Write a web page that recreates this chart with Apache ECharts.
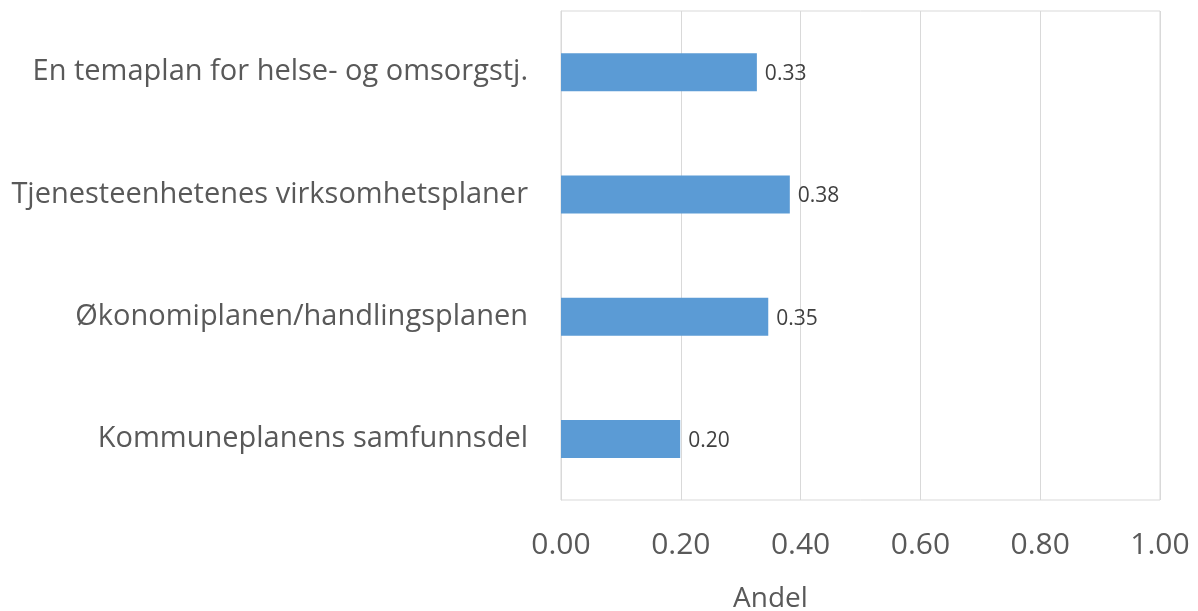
<!DOCTYPE html>
<html><head><meta charset="utf-8">
<script src="https://cdn.jsdelivr.net/npm/echarts@6/dist/echarts.min.js"></script>
<style>html,body{margin:0;padding:0;background:#fff}#c{width:1198px;height:611px}</style>
</head><body><div id="c"></div>
<script>
const categories = ['Kommuneplanens samfunnsdel','Økonomiplanen/handlingsplanen','Tjenesteenhetenes virksomhetsplaner','En temaplan for helse- og omsorgstj.'];
const values = [0.199, 0.346, 0.382, 0.327];
const xTicks = [0, 0.2, 0.4, 0.6, 0.8, 1.0];
const axisName = 'Andel';

const FONT = '"Open Sans", sans-serif';
const chart = echarts.init(document.getElementById('c'));
chart.setOption({
  animation: false,
  grid: {left: 561, right: 38, top: 11, bottom: 111, show: true, borderColor: '#d9d9d9', borderWidth: 1},
  xAxis: {
    type: 'value', min: xTicks[0], max: xTicks[xTicks.length-1], interval: 0.2,
    axisLine: {show: false}, axisTick: {show: false},
    splitLine: {lineStyle: {color: '#d9d9d9'}},
    axisLabel: {formatter: v => v.toFixed(2), color: '#595959', fontSize: 30, fontFamily: FONT, margin: 30}
  },
  yAxis: {
    type: 'category', data: categories,
    axisLine: {show: true, lineStyle: {color: '#d9d9d9'}}, axisTick: {show: false},
    axisLabel: {color: '#595959', fontSize: 29, fontFamily: FONT, margin: 33}
  },
  graphic: [{type: 'text', left: 733, top: 585, style: {text: axisName, fill: '#595959', font: '28px ' + FONT}}],
  series: [{
    type: 'bar', data: values, barWidth: 38,
    itemStyle: {color: '#5B9BD5'},
    label: {show: true, position: 'right', distance: 8, offset: [0, 2], formatter: p => p.value.toFixed(2), color: '#404040', fontSize: 21, fontFamily: FONT}
  }]
});
</script></body></html>
